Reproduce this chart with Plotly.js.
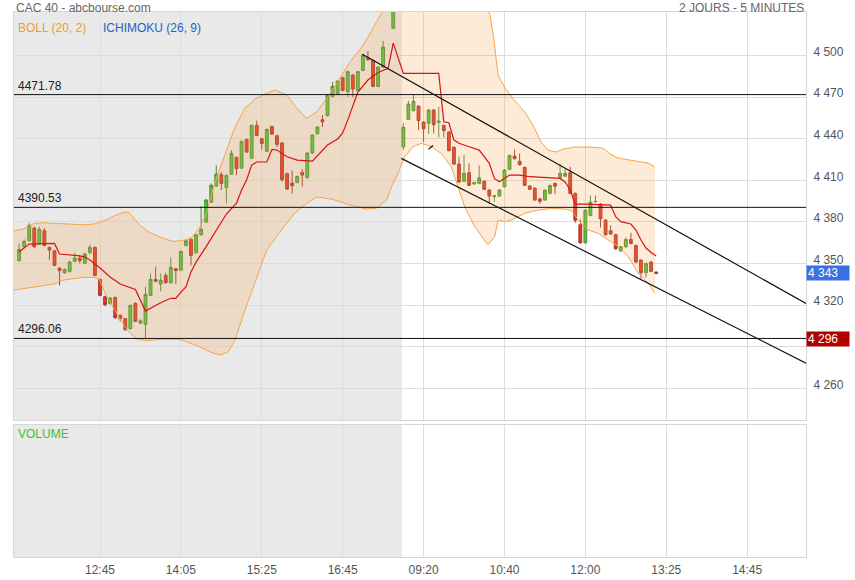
<!DOCTYPE html>
<html>
<head>
<meta charset="utf-8">
<script src="https://cdn.plot.ly/plotly-3.0.1.min.js"></script>
<style>html,body{margin:0;padding:0;background:#fff;}#chart{width:855px;height:580px;}</style>
</head>
<body>
<div id="chart"></div>
<script>
// ---- Candles (5-minute bars, index 0 = first bar of day 1; 73 and 75 empty) ----
const openP = [4352.1,4362.2,4366.5,4375.6,4364.1,4373.7,4361.7,4359.3,4346.8,4343.4,
4344.4,4351.6,4354.0,4350.2,4357.8,4361.7,4338.6,4326.1,4321.3,4325.6,
4312.7,4310.3,4303.1,4321.4,4307.0,4306.2,4327.1,4338.6,4335.3,4341.5,
4336.2,4346.3,4345.3,4363.1,4367.4,4357.8,4370.8,4379.9,4394.3,4405.9,
4414.0,4404.9,4414.5,4426.5,4418.8,4439.5,4426.0,4449.6,4440.0,4430.9,
4448.8,4442.1,4436.9,4414.8,4408.0,4408.5,4415.7,4411.9,4429.7,4443.6,
4453.7,4456.6,4470.5,4472.4,4483.9,4473.9,4485.9,4474.8,4489.2,4498.4,
4496.4,4477.7,4491.6,null,4519.5,null,4434.2,4453.9,4460.2,4463.5,
4452.0,4451.1,4460.7,4451.8,4449.6,4444.8,4433.8,4421.7,4409.3,4415.5,
4407.4,4407.8,4409.3,4403.0,4398.2,4398.7,4405.4,4417.9,4427.5,4423.7,
4419.3,4405.9,4404.4,4396.7,4395.8,4400.6,4407.8,4412.1,4413.0,4415.5,
4400.6,4378.0,4365.0,4384.7,4394.6,4392.9,4381.3,4373.7,4370.8,4359.2,
4362.1,4367.4,4363.1,4352.5,4343.4,4351.1,4343.9];
const highP = [4364.6,4367.5,4379.0,4376.5,4376.6,4375.6,4362.3,4359.8,4347.4,4346.4,
4352.0,4357.8,4356.0,4358.0,4363.6,4362.3,4339.2,4326.7,4326.0,4326.2,
4313.5,4310.9,4320.5,4322.0,4309.8,4333.3,4342.9,4347.7,4342.9,4343.4,
4354.5,4346.9,4359.4,4367.1,4368.0,4371.4,4391.5,4396.4,4407.8,4420.8,
4416.0,4414.2,4431.8,4427.1,4438.7,4440.1,4450.2,4453.0,4440.6,4447.3,
4449.4,4442.7,4437.5,4415.4,4417.2,4413.4,4418.1,4430.3,4443.2,4449.0,
4457.0,4472.1,4481.0,4482.1,4484.5,4488.9,4486.5,4488.9,4500.9,4503.2,
4497.0,4492.2,4510.4,null,4535.0,null,4451.1,4467.4,4471.7,4464.1,
4452.6,4461.3,4461.3,4463.0,4450.2,4445.4,4434.4,4427.0,4428.5,4422.2,
4409.0,4420.8,4409.9,4403.6,4399.4,4403.6,4418.0,4428.6,4432.3,4429.4,
4419.9,4406.5,4405.0,4397.3,4403.5,4406.9,4408.4,4421.7,4418.3,4419.8,
4401.2,4381.8,4389.1,4399.1,4399.1,4393.5,4381.9,4377.5,4371.4,4362.7,
4368.8,4372.2,4363.7,4353.1,4350.7,4351.7,4344.3];
const lowP = [4351.5,4361.5,4366.0,4361.0,4363.5,4362.5,4352.6,4348.2,4334.3,4342.5,
4343.5,4351.0,4350.0,4349.5,4357.2,4341.0,4326.5,4319.2,4320.5,4310.0,
4308.5,4301.5,4302.5,4307.8,4306.4,4296.5,4326.5,4336.6,4330.0,4335.6,
4335.6,4335.3,4344.7,4362.5,4348.7,4357.2,4370.2,4379.3,4393.7,4405.3,
4403.0,4393.4,4413.9,4413.6,4418.2,4429.8,4425.4,4441.8,4432.0,4430.3,
4442.8,4434.0,4409.0,4403.1,4400.4,4407.9,4405.6,4411.3,4429.1,4443.0,
4448.4,4456.0,4469.9,4471.8,4474.2,4470.0,4470.0,4474.2,4488.6,4496.3,
4477.1,4477.1,4491.0,null,4519.0,null,4431.8,4453.3,4459.6,4446.2,
4437.6,4443.4,4443.8,4441.0,4441.0,4430.8,4421.1,4408.2,4408.7,4405.8,
4406.8,4407.2,4402.9,4392.9,4394.5,4398.1,4404.8,4417.3,4425.0,4420.7,
4405.8,4402.9,4395.2,4393.0,4395.2,4400.0,4400.1,4411.5,4412.4,4399.9,
4379.4,4364.4,4364.4,4384.1,4394.0,4376.0,4370.2,4370.7,4360.1,4358.6,
4361.5,4363.9,4350.5,4339.0,4340.0,4343.8,4342.5];
const closeP = [4360.2,4366.0,4377.5,4362.2,4374.7,4363.1,4359.8,4348.7,4344.9,4345.8,
4351.1,4354.0,4352.1,4356.9,4361.7,4341.5,4327.1,4320.4,4325.2,4311.2,
4310.3,4302.6,4319.9,4308.4,4308.8,4327.8,4338.6,4337.2,4338.1,4336.2,
4347.3,4344.9,4358.8,4366.5,4355.9,4370.8,4374.6,4395.8,4406.4,4414.5,
4407.8,4413.6,4429.4,4418.4,4438.1,4430.4,4449.6,4442.4,4436.6,4446.7,
4443.3,4435.9,4410.4,4403.7,4406.1,4412.8,4413.8,4429.7,4442.6,4448.4,
4452.2,4471.5,4477.7,4481.5,4474.8,4488.3,4475.8,4488.3,4500.3,4496.9,
4477.7,4491.6,4506.0,null,4533.0,null,4448.2,4465.0,4466.9,4453.0,
4447.2,4460.7,4450.1,4452.6,4445.8,4431.4,4421.7,4408.8,4415.0,4406.4,
4408.4,4411.7,4403.5,4398.7,4398.8,4403.0,4417.4,4428.0,4425.6,4421.3,
4406.4,4403.5,4395.8,4394.8,4402.9,4406.3,4405.8,4415.0,4415.0,4400.6,
4381.3,4365.0,4388.5,4394.3,4394.8,4382.3,4370.8,4371.3,4360.7,4362.1,
4367.4,4364.5,4351.1,4343.4,4350.1,4344.4,4342.9];

// ---- Bollinger (20, 2) bands (x = bar index) ----
const bollUpX = [-1.01,0.97,2.95,4.92,6.90,8.88,10.86,12.84,14.81,16.79,18.77,20.75,21.74,22.72,24.05,25.69,27.87,30.44,32.81,34.20,35.78,37.16,38.15,39.73,41.32,42.70,44.68,46.66,48.63,50.61,52.93,54.90,56.88,58.86,60.84,62.82,65.45,68.08,70.73,71.97,74,80,86,91,93.14,93.93,94.72,96.10,98.08,100.06,101.64,103.22,104.61,106.19,107.58,109.95,112.92,115.49,116.87,118.45,120.83,122.80,124.39,125.77];
const bollUpY = [4373.7,4375.1,4379.0,4379.4,4379.0,4378.5,4378.0,4378.0,4378.5,4380.9,4384.3,4387.2,4386.8,4382.8,4377.1,4372.7,4369.1,4365.9,4367.0,4369.1,4376.3,4387.2,4401.6,4418.8,4435.4,4448.4,4462.1,4468.6,4472.2,4475.1,4471.5,4462.1,4454.7,4459.4,4469.1,4479.9,4495.4,4507.5,4524.3,4532.7,4560,4580,4570,4545,4529.1,4511.1,4485.9,4476.5,4467.1,4459.2,4449.8,4437.6,4431.8,4430.4,4432.5,4434.0,4434.0,4433.3,4429.0,4426.1,4424.6,4423.4,4422.5,4419.6];
const bollLoX = [-1.01,1.62,4.27,6.90,8.88,10.86,12.84,14.81,15.80,17.33,19.30,21.28,23.26,25.24,27.87,31.82,33.80,35.78,37.76,39.73,41.32,42.70,44.68,47.05,48.97,51.60,54.17,56.15,58.86,62.08,65.45,68.75,70.73,72.70,73.81,74.94,76.27,77.91,79.55,81.53,83.50,85.48,86.81,88.13,90.11,92.74,94.07,94.72,96.04,97.35,99.99,102.63,105.33,107.96,109.29,110.60,112.58,114.56,116.53,118.51,120.49,122.47,124.45,125.77];
const bollLoY = [4330.9,4332.2,4333.8,4335.3,4338.2,4339.4,4340.1,4340.1,4338.9,4326.1,4314.2,4302.1,4295.7,4294.4,4295.4,4295.4,4292.8,4289.9,4286.3,4284.1,4286.3,4294.9,4316.5,4340.3,4359.8,4372.7,4385.0,4391.5,4398.0,4396.2,4392.2,4389.3,4390.0,4395.8,4406.6,4415.0,4427.0,4434.2,4436.7,4434.2,4429.4,4419.8,4405.4,4391.0,4376.6,4363.4,4369.4,4381.4,4380.2,4381.4,4386.2,4388.6,4389.8,4389.3,4388.1,4381.4,4374.2,4371.8,4367.0,4362.2,4355.0,4343.0,4335.8,4328.6];

// ---- Ichimoku (26, 9) line ----
const ichiX = [0,2,7,8,12,13,14,16,18,20,23,24,25,27,28,30,31,32,33,34,35,37,39,41,43,44,45,46,47,49,50,51,53,55,58,59,61,63,64,65,67,69,71,73,74,76,83,84,85,86,87,89,91,93,94,95,97,99,101,107,108,109,110,112,117,118,119,121,122,123,124,125,126];
const ichiY = [4358.5,4364.1,4364.5,4356.9,4355.5,4354.7,4352.6,4346.8,4340.3,4335.3,4331.3,4323.7,4315.8,4319.8,4321.8,4325.0,4325.0,4329.5,4333.1,4344.0,4351.1,4362.2,4374.2,4385.7,4393.6,4403.0,4410.2,4421.0,4423.2,4423.2,4432.2,4431.8,4427.0,4424.6,4423.9,4427.5,4435.4,4439.8,4444.1,4453.4,4473.6,4482.3,4487.7,4490.7,4508.9,4487.1,4487.1,4452.2,4451.5,4439.0,4436.7,4434.2,4431.8,4422.2,4411.4,4409.0,4413.8,4413.8,4412.6,4411.4,4408.8,4403.0,4392.9,4392.9,4392.2,4383.8,4380.2,4378.5,4374.2,4367.0,4361.2,4358.0,4355.5];

// ---- Drawn objects ----
const levels = [4471.78, 4390.53, 4296.06];
const levelText = ['4471.78', '4390.53', '4296.06'];
const trendUpX = [67.88, 155.64], trendUpY = [4500.8, 4321.3];
const trendLoX = [75.59, 155.64], trendLoY = [4425.8, 4278.3];
const tickMarkX = [80.97, 81.86], tickMarkY = [4432.3, 4435.1];
const lastPrice = 4343, supportPrice = 4296;

// ---- Axes ----
const xTickVals = [16, 32, 48, 64, 80, 96, 112, 128, 144];
const xTickText = ['12:45', '14:05', '15:25', '16:45', '09:20', '10:40', '12:00', '13:25', '14:45'];
const yTickVals = [4260, 4290, 4320, 4350, 4380, 4410, 4440, 4470, 4500];
const yTickText = ['4 260', '', '4 320', '4 350', '4 380', '4 410', '4 440', '4 470', '4 500'];
const dayOneEnd = 75.7;

const xIdx = openP.map((_, i) => i);
const FONT = 'Liberation Sans, Arial, sans-serif';

const traces = [
  {type: 'scatter', mode: 'lines', x: bollUpX, y: bollUpY, line: {color: '#f5a54a', width: 1}, hoverinfo: 'skip', showlegend: false},
  {type: 'scatter', mode: 'lines', x: bollLoX, y: bollLoY, line: {color: '#f5a54a', width: 1}, fill: 'tonexty', fillcolor: 'rgba(246,167,83,0.23)', hoverinfo: 'skip', showlegend: false},
  {type: 'candlestick', x: xIdx, open: openP, high: highP, low: lowP, close: closeP,
   increasing: {line: {color: '#4f8a3a', width: 1}, fillcolor: '#3fd12f'},
   decreasing: {line: {color: '#9c3a2c', width: 1}, fillcolor: '#ee3424'},
   whiskerwidth: 0, hoverinfo: 'skip', showlegend: false},
  {type: 'scatter', mode: 'lines', x: ichiX, y: ichiY, line: {color: '#dd1111', width: 1.2}, hoverinfo: 'skip', showlegend: false},
  {type: 'scatter', mode: 'lines', x: trendUpX, y: trendUpY, line: {color: '#111', width: 1.2}, hoverinfo: 'skip', showlegend: false},
  {type: 'scatter', mode: 'lines', x: trendLoX, y: trendLoY, line: {color: '#111', width: 1.2}, hoverinfo: 'skip', showlegend: false},
  {type: 'scatter', mode: 'lines', x: tickMarkX, y: tickMarkY, line: {color: '#111', width: 1.2}, hoverinfo: 'skip', showlegend: false},
  {type: 'scatter', mode: 'lines', x: [0, 1], y: [0, 0], xaxis: 'x', yaxis: 'y2', line: {width: 0}, hoverinfo: 'skip', showlegend: false}
];

const shapes = [
  {type: 'rect', xref: 'x', yref: 'y domain', x0: -2, x1: dayOneEnd, y0: 0, y1: 1, fillcolor: '#e9e9e9', line: {width: 0}, layer: 'below'},
  {type: 'rect', xref: 'x', yref: 'y2 domain', x0: -2, x1: dayOneEnd, y0: 0, y1: 1, fillcolor: '#e9e9e9', line: {width: 0}, layer: 'below'}
];
levels.forEach(v => shapes.push({type: 'line', xref: 'paper', yref: 'y', x0: 0, x1: 1, y0: v, y1: v, line: {color: '#111', width: 1}, layer: 'above'}));

const annotations = [
  {xref: 'paper', yref: 'paper', x: 0, y: 1, yshift: 4, xanchor: 'left', yanchor: 'middle', showarrow: false, text: 'CAC 40 - abcbourse.com', font: {family: FONT, size: 12, color: '#666'}},
  {xref: 'paper', yref: 'paper', x: 1, y: 1, yshift: 4, xanchor: 'right', yanchor: 'middle', showarrow: false, text: '2 JOURS - 5 MINUTES', font: {family: FONT, size: 12, color: '#666'}},
  {xref: 'paper', yref: 'paper', x: 0, xshift: 2, y: 1, yshift: -16, xanchor: 'left', yanchor: 'middle', showarrow: false, text: 'BOLL (20, 2)', font: {family: FONT, size: 12, color: '#f29a2e'}},
  {xref: 'paper', yref: 'paper', x: 0, xshift: 87, y: 1, yshift: -16, xanchor: 'left', yanchor: 'middle', showarrow: false, text: 'ICHIMOKU (26, 9)', font: {family: FONT, size: 12, color: '#1b63c6'}},
  {xref: 'paper', yref: 'y2 domain', x: 0, xshift: 2, y: 1, yshift: -9, xanchor: 'left', yanchor: 'middle', showarrow: false, text: 'VOLUME', font: {family: FONT, size: 12, color: '#3cbf3c'}},
  {xref: 'paper', yref: 'y', x: 1, y: lastPrice, xanchor: 'left', yanchor: 'middle', showarrow: false, text: '4 343', bgcolor: '#3a6fe6', width: 40, height: 12, align: 'left', font: {family: FONT, size: 12, color: '#fff'}},
  {xref: 'paper', yref: 'y', x: 1, y: supportPrice, xanchor: 'left', yanchor: 'middle', showarrow: false, text: '4 296', bgcolor: '#b20000', width: 40, height: 12, align: 'left', font: {family: FONT, size: 12, color: '#fff'}}
];
levels.forEach((v, k) => annotations.push({xref: 'paper', yref: 'y', x: 0, xshift: 2, y: v, xanchor: 'left', yanchor: 'bottom', showarrow: false, text: levelText[k], font: {family: FONT, size: 12, color: '#222'}}));

const layout = {
  width: 855, height: 580,
  margin: {l: 14, r: 49, t: 12, b: 23, pad: 0},
  paper_bgcolor: '#fff', plot_bgcolor: '#fff',
  showlegend: false, hovermode: false, dragmode: false,
  boxgap: 0.2,
  font: {family: FONT, size: 12, color: '#555'},
  xaxis: {anchor: 'y2', range: [-1.01, 155.64], tickvals: xTickVals, ticktext: xTickText, showgrid: true, gridcolor: '#dcdcdc', gridwidth: 1,
          zeroline: false, showline: true, mirror: 'all', linecolor: '#d6d6d6', ticks: '', ticklabelstandoff: 2, tickfont: {size: 12, color: '#555'}, rangeslider: {visible: false}, fixedrange: true},
  yaxis: {domain: [0.2514, 1], anchor: 'x', side: 'right', range: [4237.3, 4531.3], tickvals: yTickVals, ticktext: yTickText, showgrid: true, gridcolor: '#dcdcdc',
          zeroline: false, showline: true, mirror: true, linecolor: '#d6d6d6', ticks: '', ticklabelshift: -4, ticklabelstandoff: 4, tickfont: {size: 12, color: '#555'}, fixedrange: true},
  yaxis2: {domain: [0, 0.2422], anchor: 'x', side: 'right', range: [0, 1], showgrid: false, zeroline: false, showticklabels: false,
           showline: true, mirror: true, linecolor: '#d6d6d6', ticks: '', fixedrange: true},
  shapes: shapes,
  annotations: annotations
};

Plotly.newPlot('chart', traces, layout, {staticPlot: true, displayModeBar: false});
</script>
</body>
</html>
